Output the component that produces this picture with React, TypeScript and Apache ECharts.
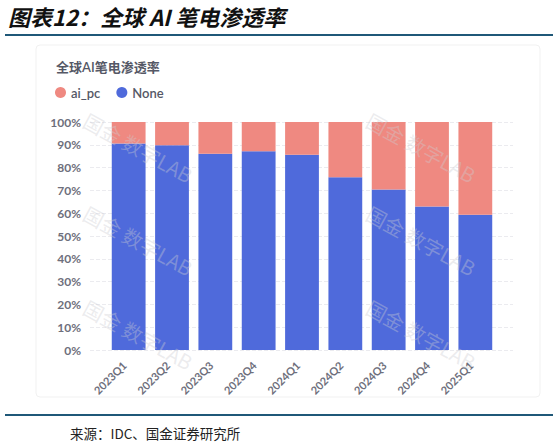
import React, { useEffect, useRef } from "react";
import * as echarts from "echarts";

const categories = ["2023Q1", "2023Q2", "2023Q3", "2023Q4", "2024Q1", "2024Q2", "2024Q3", "2024Q4", "2025Q1"];
const noneValues = [90.6, 89.8, 86.1, 87.2, 85.6, 75.8, 70.4, 62.9, 59.3];
const aiPcValues = [9.4, 10.2, 13.9, 12.8, 14.4, 24.2, 29.6, 37.1, 40.7];
const legendNames = ["ai_pc", "None"];
const pageTitle = "图表12：全球 AI 笔电渗透率";
const chartTitle = "全球AI笔电渗透率";
const sourceText = "来源：IDC、国金证券研究所";
const watermark = "国金 数字LAB";

const BLUE = "#4f6adb";
const RED = "#ef8981";
const LABEL = "#6e6f7c";
const LINE = "#1f5878";

export default function App() {
  const ref = useRef<HTMLDivElement>(null);
  useEffect(() => {
    document.body.style.margin = "0";
    const chart = echarts.init(ref.current!, undefined, { renderer: "svg" });
    const wmPos = [
      [90, 110], [90, 203], [90, 297],
      [373, 110], [373, 203], [373, 297],
    ];
    chart.setOption({
      animation: false,
      title: {
        text: chartTitle,
        left: 51,
        top: 55,
        textStyle: { fontSize: 13, fontWeight: 600, color: "#555866", fontFamily: "Lato, 'Noto Sans CJK SC'" },
      },
      legend: {
        data: legendNames,
        left: 50,
        top: 81,
        icon: "circle",
        itemWidth: 11,
        itemHeight: 11,
        itemGap: 16,
        textStyle: { fontSize: 13, color: "#555866", fontWeight: 600, fontFamily: "Lato" },
      },
      grid: [
        { left: 107, right: 62, top: 122, bottom: 95 },
        { left: 90, right: 46, top: 122, bottom: 95 },
      ],
      xAxis: [
        {
          type: "category",
          gridIndex: 0,
          data: categories,
          axisLine: { show: false },
          axisTick: { show: false },
          axisLabel: {
            rotate: 45,
            margin: 9,
            fontSize: 11,
            fontWeight: "bold",
            color: LABEL,
            fontFamily: "Lato",
            padding: [0, 6, 0, 0],
          },
        },
        { type: "value", gridIndex: 1, show: false, min: 0, max: 1 },
      ],
      yAxis: [
        { type: "value", gridIndex: 0, min: 0, max: 100, interval: 10, show: false },
        {
          type: "value",
          gridIndex: 1,
          min: 0,
          max: 100,
          interval: 10,
          axisLine: { show: false },
          axisTick: { show: false },
          axisLabel: {
            formatter: "{value}%",
            margin: 9,
            fontSize: 12,
            fontWeight: "bold",
            color: LABEL,
            fontFamily: "Lato",
          },
          splitLine: { show: true, lineStyle: { type: "dashed", color: "#ebebef", width: 1 } },
        },
      ],
      series: [
        {
          name: legendNames[1],
          type: "bar",
          stack: "total",
          xAxisIndex: 0,
          yAxisIndex: 0,
          data: noneValues,
          barWidth: "78%",
          itemStyle: { color: BLUE },
          z: 1,
        },
        {
          name: legendNames[0],
          type: "bar",
          stack: "total",
          xAxisIndex: 0,
          yAxisIndex: 0,
          data: aiPcValues,
          barWidth: "78%",
          itemStyle: { color: RED },
          z: 1,
        },
      ],
      graphic: [
        {
          type: "rect",
          shape: { x: 36, y: 45, width: 504, height: 352, r: 4 },
          style: { fill: "none", stroke: "#f1f1f1", lineWidth: 1 },
          silent: true,
          z: 0,
        },
        ...wmPos.map(([x, y]) => ({
          type: "text",
          x,
          y,
          rotation: -0.5,
          silent: true,
          z: 200,
          zlevel: 0,
          style: {
            text: watermark,
            fontSize: 20,
            fontFamily: "'Noto Sans CJK SC', Lato",
            fill: "rgba(205,205,210,0.38)",
            textVerticalAlign: "top",
          },
        })),
        {
          type: "text",
          x: 8,
          y: 5,
          style: {
            text: pageTitle,
            fontSize: 22,
            fontStyle: "italic",
            fontWeight: "bold",
            fontFamily: "'Noto Sans CJK SC'",
            fill: "#111",
            textVerticalAlign: "top",
          },
        },
        {
          type: "line",
          shape: { x1: 5, y1: 35, x2: 553, y2: 35 },
          style: { stroke: LINE, lineWidth: 2 },
        },
        {
          type: "line",
          shape: { x1: 5, y1: 415, x2: 553, y2: 415 },
          style: { stroke: LINE, lineWidth: 2 },
        },
        {
          type: "text",
          x: 70,
          y: 426,
          style: {
            text: sourceText,
            fontSize: 13.5,
            fontFamily: "'Noto Sans CJK SC'",
            fill: "#222",
            textVerticalAlign: "top",
          },
        },
      ],
    });
    return () => chart.dispose();
  }, []);
  return <div ref={ref} style={{ width: 559, height: 445 }} />;
}
